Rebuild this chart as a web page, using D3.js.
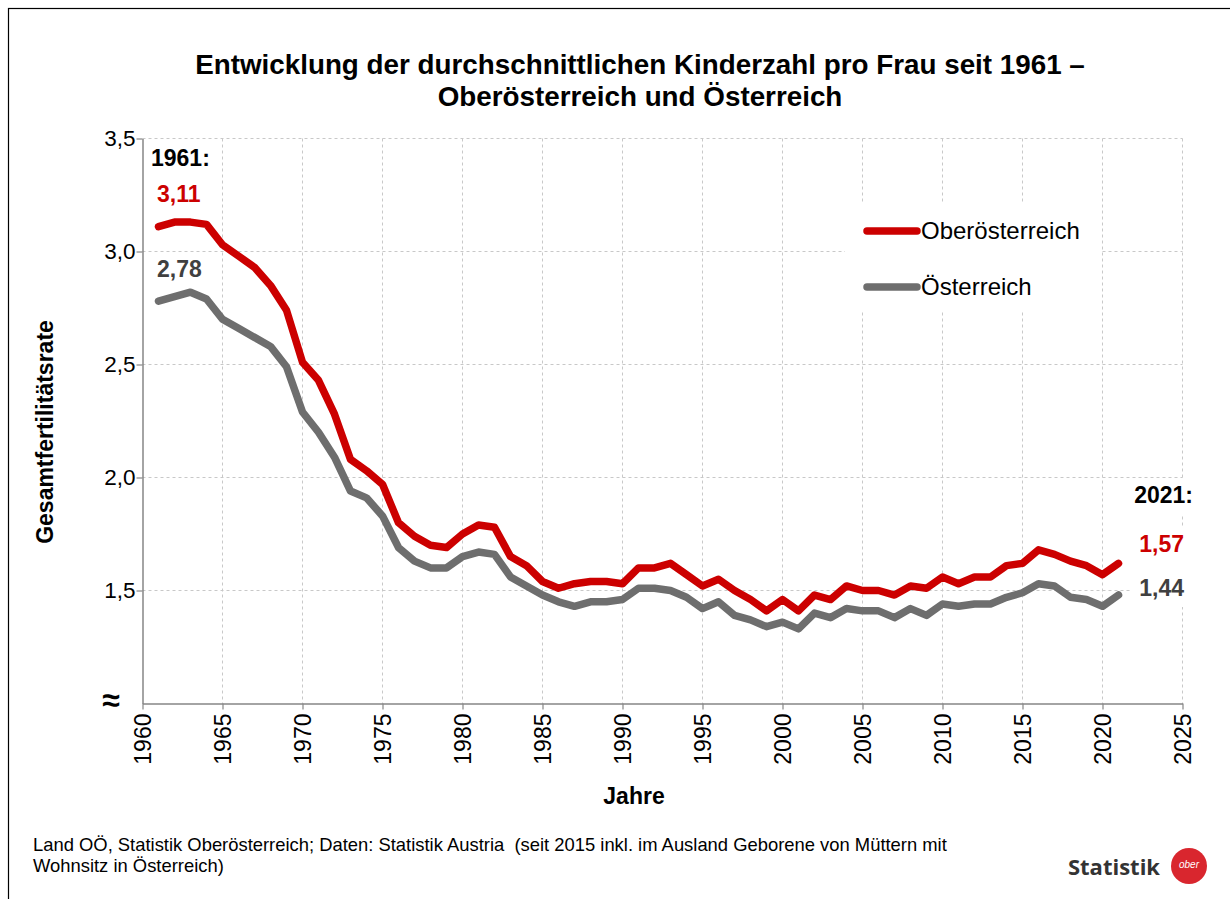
<!DOCTYPE html>
<html><head><meta charset="utf-8">
<script src="https://cdn.jsdelivr.net/npm/d3@7"></script>
<style>body{margin:0;background:#fff;} svg{display:block;font-family:Arial,"Liberation Sans",sans-serif;}</style>
</head><body>
<svg id="c" width="1230" height="899"></svg>
<script>
const years = d3.range(1961, 2022);
const ooe = [3.11,3.13,3.13,3.12,3.03,2.98,2.93,2.85,2.74,2.51,2.43,2.28,2.08,2.03,1.97,
  1.80,1.74,1.70,1.69,1.75,1.79,1.78,1.65,1.61,1.54,1.51,1.53,1.54,1.54,1.53,
  1.60,1.60,1.62,1.57,1.52,1.55,1.50,1.46,1.41,1.46,1.41,1.48,1.46,1.52,1.50,
  1.50,1.48,1.52,1.51,1.56,1.53,1.56,1.56,1.61,1.62,1.68,1.66,1.63,1.61,1.57,1.62];
const oes = [2.78,2.80,2.82,2.79,2.70,2.66,2.62,2.58,2.49,2.29,2.20,2.09,1.94,1.91,1.83,
  1.69,1.63,1.60,1.60,1.65,1.67,1.66,1.56,1.52,1.48,1.45,1.43,1.45,1.45,1.46,
  1.51,1.51,1.50,1.47,1.42,1.45,1.39,1.37,1.34,1.36,1.33,1.40,1.38,1.42,1.41,
  1.41,1.38,1.42,1.39,1.44,1.43,1.44,1.44,1.47,1.49,1.53,1.52,1.47,1.46,1.43,1.48];
const seriesNames = ["Oberösterreich","Österreich"];
const xTicks = d3.range(1960, 2026, 5);
const yTicks = [1.5, 2.0, 2.5, 3.0, 3.5];
const yTickLabels = ["1,5","2,0","2,5","3,0","3,5"];
const title = ["Entwicklung der durchschnittlichen Kinderzahl pro Frau seit 1961 –","Oberösterreich und Österreich"];
const footer = ["Land OÖ, Statistik Oberösterreich; Daten: Statistik Austria  (seit 2015 inkl. im Ausland Geborene von Müttern mit","Wohnsitz in Österreich)"];
const startLabels = ["1961:","3,11","2,78"];
const endLabels = ["2021:","1,57","1,44"];

const RED = "#cc0000", GRAY = "#6e6e6e", TGRAY = "#404040", AX = "#868686";
const svg = d3.select("#c");
const x = d3.scaleLinear().domain([1960, 2025]).range([142.5, 1182.5]);
const y = d3.scaleLinear().domain([1.0, 3.5]).range([703.5, 138.5]);

// outer frame
svg.append("rect").attr("x",8.5).attr("y",8.5).attr("width",1240).attr("height",920)
  .attr("fill","none").attr("stroke","#000").attr("stroke-width",1.2);

// title
svg.append("g").selectAll("text").data(title).join("text")
  .attr("x",640).attr("y",(d,i)=>74+i*32).attr("text-anchor","middle")
  .attr("font-weight","bold").attr("font-size",27.8).attr("fill","#000").text(d=>d);

// gridlines
const grid = svg.append("g").attr("stroke","#c8c8c8").attr("stroke-dasharray","3,3").attr("stroke-width",1);
grid.selectAll(".gv").data(xTicks.filter(t=>t>1960)).join("line")
  .attr("x1",d=>x(d)).attr("x2",d=>x(d)).attr("y1",y(3.5)).attr("y2",y(1.0));
grid.selectAll(".gh").data(yTicks).join("line")
  .attr("x1",x(1960)).attr("x2",x(2025)).attr("y1",d=>y(d)).attr("y2",d=>y(d));

// axes
const xAxis = svg.append("g").attr("transform",`translate(0,${y(1.0)})`)
  .call(d3.axisBottom(x).tickValues(xTicks).tickFormat(d3.format("d")).tickSize(6).tickSizeOuter(0));
xAxis.select(".domain").attr("stroke",AX).attr("stroke-width",1.5);
xAxis.selectAll(".tick line").attr("stroke",AX).attr("stroke-width",1.2);
xAxis.selectAll(".tick text").attr("font-size",23).attr("fill","#000")
  .attr("font-family","Arial, 'Liberation Sans', sans-serif")
  .attr("transform","rotate(-90)").attr("text-anchor","end").attr("x",-10).attr("y",0).attr("dy","0.36em");

const yAxis = svg.append("g").attr("transform",`translate(${x(1960)},0)`)
  .call(d3.axisLeft(y).tickValues(yTicks).tickFormat((d,i)=>yTickLabels[i]).tickSize(6).tickSizeOuter(0));
yAxis.select(".domain").attr("stroke",AX).attr("stroke-width",1.5);
yAxis.selectAll(".tick text").attr("font-size",22.5).attr("fill","#000")
  .attr("font-family","Arial, 'Liberation Sans', sans-serif").attr("x",-7);
yAxis.selectAll(".tick line").attr("stroke",AX).attr("stroke-width",1.2);

svg.append("text").attr("x",111).attr("y",y(1.0)+7).attr("text-anchor","middle")
  .attr("font-size",32).attr("font-weight","bold").text("≈");

// axis titles
svg.append("text").attr("transform",`translate(53,${432}) rotate(-90)`).attr("text-anchor","middle")
  .attr("font-weight","bold").attr("font-size",23).text("Gesamtfertilitätsrate");
svg.append("text").attr("x",634).attr("y",804).attr("text-anchor","middle")
  .attr("font-weight","bold").attr("font-size",23).text("Jahre");

// lines
const line = d3.line().x((d,i)=>x(years[i])).y(d=>y(d)).curve(d3.curveLinear);
svg.append("path").datum(oes).attr("d",line).attr("fill","none").attr("stroke",GRAY)
  .attr("stroke-width",7.5).attr("stroke-linejoin","round").attr("stroke-linecap","round");
svg.append("path").datum(ooe).attr("d",line).attr("fill","none").attr("stroke",RED)
  .attr("stroke-width",7.5).attr("stroke-linejoin","round").attr("stroke-linecap","round");

// legend
const lg = svg.append("g");
lg.append("rect").attr("x",845).attr("y",203).attr("width",255).attr("height",108).attr("fill","#fff");
[[RED,231],[GRAY,287]].forEach(([c,yy],i)=>{
  lg.append("line").attr("x1",867).attr("x2",917).attr("y1",yy).attr("y2",yy)
    .attr("stroke",c).attr("stroke-width",7.5).attr("stroke-linecap","round");
  lg.append("text").attr("x",921).attr("y",yy+8).attr("font-size",24).attr("fill","#000").text(seriesNames[i]);
});

// start labels
const sl = svg.append("g").attr("font-weight","bold").attr("font-size",23);
sl.append("text").attr("x",151).attr("y",166).attr("fill","#000").text(startLabels[0]);
sl.append("text").attr("x",157).attr("y",202).attr("fill",RED).text(startLabels[1]);
sl.append("text").attr("x",157).attr("y",277).attr("fill",TGRAY).text(startLabels[2]);

// end labels with white background
const el = svg.append("g").attr("font-weight","bold").attr("font-size",23);
el.append("rect").attr("x",1125).attr("y",478).attr("width",70).attr("height",37).attr("fill","#fff");
el.append("rect").attr("x",1130).attr("y",527).attr("width",60).attr("height",80).attr("fill","#fff");
el.append("text").attr("x",1193).attr("y",503).attr("text-anchor","end").attr("fill","#000").text(endLabels[0]);
el.append("text").attr("x",1184).attr("y",552).attr("text-anchor","end").attr("fill",RED).text(endLabels[1]);
el.append("text").attr("x",1184).attr("y",596).attr("text-anchor","end").attr("fill",TGRAY).text(endLabels[2]);

// footer
svg.append("g").selectAll("text").data(footer).join("text")
  .attr("x",33).attr("y",(d,i)=>851+i*21).attr("font-size",18.4).attr("fill","#000")
  .style("white-space","pre").text(d=>d);

// logo
svg.append("text").attr("x",1160).attr("y",875).attr("text-anchor","end").attr("font-weight","bold")
  .attr("font-size",22).attr("fill","#333").attr("font-family","'Open Sans', Lato, sans-serif").text("Statistik");
svg.append("circle").attr("cx",1189).attr("cy",866).attr("r",18).attr("fill","#d9262e");
svg.append("text").attr("x",1189).attr("y",868).attr("text-anchor","middle").attr("font-size",10)
  .attr("font-style","italic").attr("fill","#fff").text("ober");
</script>
</body></html>
